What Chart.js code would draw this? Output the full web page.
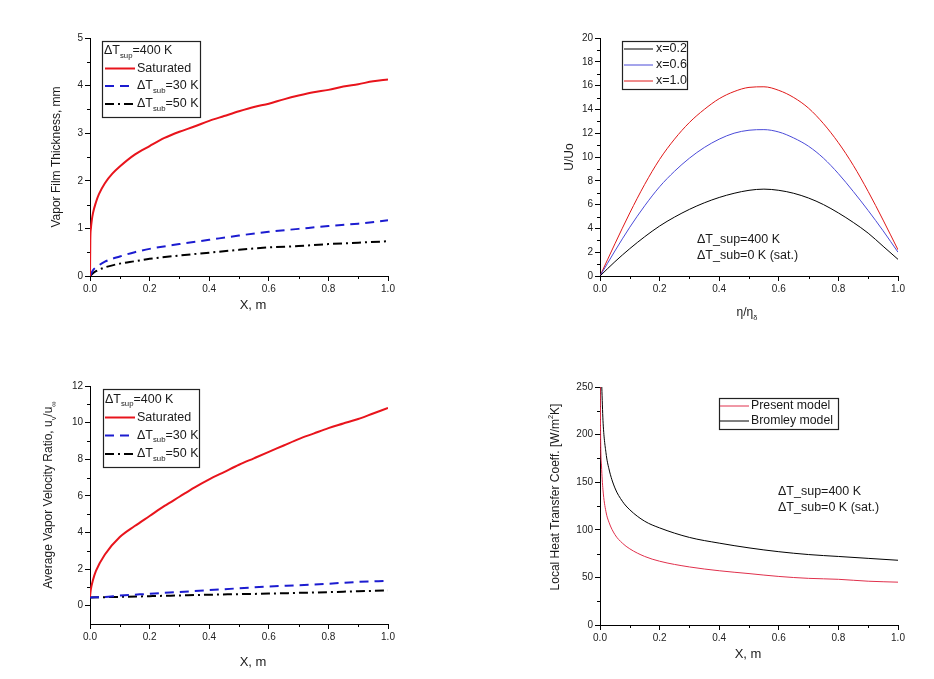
<!DOCTYPE html>
<html><head><meta charset="utf-8">
<script src="https://cdn.jsdelivr.net/npm/chart.js@4.4.0/dist/chart.umd.min.js"></script>
<style>
html,body{margin:0;padding:0;background:#fff;width:934px;height:679px;overflow:hidden;position:relative;}
canvas{position:absolute;}
</style></head><body>
<canvas id="c1" width="467" height="340" style="left:0;top:0"></canvas>
<canvas id="c2" width="467" height="340" style="left:467px;top:0"></canvas>
<canvas id="c3" width="467" height="339" style="left:0;top:340px"></canvas>
<canvas id="c4" width="467" height="339" style="left:467px;top:340px"></canvas>
<script>
const FONT = "'Liberation Sans', Arial, Helvetica, sans-serif";

// ---------- Panel 1: Vapor film thickness ----------
const filmTicksX = [0, 0.2, 0.4, 0.6, 0.8, 1.0];
const filmTicksY = [0, 1, 2, 3, 4, 5];
const filmSatX = [0, 0.001, 0.003, 0.006, 0.01, 0.02, 0.03, 0.05, 0.075, 0.1, 0.15, 0.2, 0.25, 0.3, 0.35, 0.4, 0.45, 0.5, 0.55, 0.6, 0.65, 0.7, 0.75, 0.8, 0.85, 0.9, 0.95, 1.0];
const filmSat  = [0, 0.75, 1.0, 1.17, 1.32, 1.55, 1.72, 1.95, 2.15, 2.3, 2.55, 2.73, 2.9, 3.03, 3.14, 3.26, 3.36, 3.46, 3.55, 3.62, 3.71, 3.79, 3.86, 3.91, 3.98, 4.03, 4.09, 4.13];
const filmSub30X = [0, 0.01, 0.02, 0.05, 0.1, 0.15, 0.2, 0.3, 0.4, 0.5, 0.6, 0.7, 0.8, 0.9, 1.0];
const filmSub30  = [0, 0.12, 0.18, 0.3, 0.41, 0.5, 0.57, 0.67, 0.76, 0.85, 0.93, 0.99, 1.05, 1.1, 1.17];
const filmSub50X = [0, 0.01, 0.02, 0.05, 0.1, 0.15, 0.2, 0.3, 0.4, 0.5, 0.6, 0.7, 0.8, 0.9, 1.0];
const filmSub50  = [0, 0.06, 0.1, 0.18, 0.26, 0.31, 0.36, 0.43, 0.49, 0.55, 0.6, 0.63, 0.67, 0.7, 0.73];

// ---------- Panel 2: Velocity profile U/Uo ----------
const profTicksX = [0, 0.2, 0.4, 0.6, 0.8, 1.0];
const profTicksY = [0, 2, 4, 6, 8, 10, 12, 14, 16, 18, 20];
const profEta = [0, 0.05, 0.1, 0.15, 0.2, 0.25, 0.3, 0.35, 0.4, 0.45, 0.5, 0.55, 0.6, 0.65, 0.7, 0.75, 0.8, 0.85, 0.9, 0.95, 1.0];
const profX02 = [0, 1.2, 2.3, 3.3, 4.2, 4.95, 5.6, 6.15, 6.6, 6.95, 7.2, 7.3, 7.2, 6.95, 6.55, 6.0, 5.3, 4.5, 3.6, 2.5, 1.4];
const profX06 = [0, 2.1, 4.1, 5.9, 7.5, 8.8, 9.9, 10.8, 11.5, 12.0, 12.25, 12.3, 12.1, 11.6, 10.9, 9.9, 8.6, 7.1, 5.5, 3.8, 2.0];
const profX10 = [0, 2.7, 5.3, 7.7, 9.8, 11.5, 12.9, 14.0, 14.9, 15.5, 15.85, 15.9, 15.6, 15.0, 14.1, 12.8, 11.2, 9.3, 7.1, 4.7, 2.2];

// ---------- Panel 3: Average vapor velocity ratio ----------
const velTicksX = [0, 0.2, 0.4, 0.6, 0.8, 1.0];
const velTicksY = [0, 2, 4, 6, 8, 10, 12];
const velSatX = [0, 0.003, 0.01, 0.02, 0.05, 0.1, 0.15, 0.2, 0.25, 0.3, 0.35, 0.4, 0.45, 0.5, 0.55, 0.6, 0.65, 0.7, 0.75, 0.8, 0.85, 0.9, 0.95, 1.0];
const velSat  = [0.5, 0.9, 1.4, 1.9, 2.8, 3.75, 4.35, 4.9, 5.45, 5.95, 6.45, 6.9, 7.3, 7.7, 8.05, 8.4, 8.75, 9.1, 9.4, 9.7, 9.95, 10.2, 10.5, 10.8];
const velSub30X = [0, 0.05, 0.1, 0.2, 0.3, 0.4, 0.5, 0.6, 0.7, 0.8, 0.9, 1.0];
const velSub30  = [0.45, 0.47, 0.55, 0.65, 0.75, 0.85, 0.95, 1.05, 1.12, 1.2, 1.3, 1.36];
const velSub50X = [0, 0.1, 0.2, 0.3, 0.4, 0.5, 0.6, 0.7, 0.8, 0.9, 1.0];
const velSub50  = [0.45, 0.48, 0.52, 0.56, 0.6, 0.63, 0.66, 0.7, 0.74, 0.79, 0.83];

// ---------- Panel 4: Local heat transfer coefficient ----------
const htcTicksX = [0, 0.2, 0.4, 0.6, 0.8, 1.0];
const htcTicksY = [0, 50, 100, 150, 200, 250];
const htcPresentX = [0.001, 0.002, 0.005, 0.01, 0.02, 0.03, 0.05, 0.075, 0.1, 0.15, 0.2, 0.3, 0.4, 0.5, 0.6, 0.7, 0.8, 0.9, 1.0];
const htcPresent  = [250, 200, 168, 142, 119, 108, 95, 86, 80, 72, 67, 61, 57, 54, 51, 49, 48, 46, 45];
const htcBromleyX = [0.006, 0.01, 0.02, 0.03, 0.05, 0.075, 0.1, 0.15, 0.2, 0.3, 0.4, 0.5, 0.6, 0.7, 0.8, 0.9, 1.0];
const htcBromley  = [250, 215, 181, 164, 144, 130, 121, 109, 102, 92, 86, 81, 77, 74, 72, 70, 68];

function pts(xs, ys) { return xs.map((x, i) => ({ x: x, y: ys[i] })); }

function richWidth(ctx, segs, size) {
  let w = 0;
  for (const s of segs) {
    ctx.font = (s.s ? size * 0.62 : size) + 'px ' + FONT;
    w += ctx.measureText(s.t).width;
  }
  return w;
}
function drawRich(ctx, segs, x, y, size, align) {
  const w = richWidth(ctx, segs, size);
  let cx = align === 'center' ? x - w / 2 : x;
  ctx.textBaseline = 'middle';
  ctx.textAlign = 'left';
  for (const s of segs) {
    ctx.font = (s.s ? size * 0.62 : size) + 'px ' + FONT;
    const dy = s.s === 'sub' ? size * 0.38 : (s.s === 'sup' ? -size * 0.38 : 0);
    ctx.fillText(s.t, cx, y + dy);
    cx += ctx.measureText(s.t).width;
  }
}

const decor = {
  id: 'decor',
  afterDraw(chart, args, o) {
    const ctx = chart.ctx;
    ctx.save();
    ctx.fillStyle = '#1a1a1a';
    // minor ticks
    if (o.minor) {
      ctx.strokeStyle = '#000'; ctx.lineWidth = 1;
      const xs = chart.scales.x, ys = chart.scales.y;
      ctx.beginPath();
      for (const v of o.minor.x) {
        const p = Math.round(xs.getPixelForValue(v)) + 0.5;
        ctx.moveTo(p, chart.chartArea.bottom); ctx.lineTo(p, chart.chartArea.bottom + 3);
      }
      for (const v of o.minor.y) {
        const p = Math.round(ys.getPixelForValue(v)) + 0.5;
        ctx.moveTo(chart.chartArea.left, p); ctx.lineTo(chart.chartArea.left - 3, p);
      }
      ctx.stroke();
    }
    // axis titles
    if (o.xTitle) drawRich(ctx, o.xTitle.segs, o.xTitle.x, o.xTitle.y, o.xTitle.size, 'center');
    if (o.yTitle) {
      ctx.save();
      ctx.translate(o.yTitle.x, o.yTitle.y);
      ctx.rotate(-Math.PI / 2);
      drawRich(ctx, o.yTitle.segs, 0, 0, o.yTitle.size, 'center');
      ctx.restore();
    }
    // notes
    if (o.notes) for (const n of o.notes) drawRich(ctx, n.segs, n.x, n.y, n.size, 'left');
    // legend
    if (o.legend) {
      const L = o.legend;
      ctx.fillStyle = '#fff';
      ctx.fillRect(L.x0, L.y0, L.x1 - L.x0, L.y1 - L.y0);
      ctx.strokeStyle = '#222'; ctx.lineWidth = 1.2; ctx.setLineDash([]);
      ctx.strokeRect(L.x0 + 0.5, L.y0 + 0.5, L.x1 - L.x0, L.y1 - L.y0);
      ctx.fillStyle = '#1a1a1a';
      for (const r of L.rows) {
        if (r.ds !== undefined) {
          const ds = chart.data.datasets[r.ds];
          ctx.save();
          ctx.strokeStyle = ds.borderColor; ctx.lineWidth = ds.borderWidth;
          ctx.setLineDash(ds.borderDash || []);
          ctx.beginPath(); ctx.moveTo(L.lx0, r.y); ctx.lineTo(L.lx1, r.y); ctx.stroke();
          ctx.restore();
        }
        drawRich(ctx, r.segs, r.tx !== undefined ? r.tx : L.tx, r.y, L.size, 'left');
      }
    }
    ctx.restore();
  }
};

function axis(min, max, ticks, fmt, fitSize, isX) {
  return {
    type: 'linear', min: min, max: max,
    afterBuildTicks: s => { s.ticks = ticks.map(v => ({ value: v })); },
    afterFit: s => { if (isX) s.height = fitSize; else s.width = fitSize; },
    border: { display: true, color: '#000', width: 1 },
    grid: { display: true, drawOnChartArea: false, drawTicks: true, tickLength: 5, tickColor: '#000', tickWidth: 1 },
    ticks: { color: '#222', font: { family: FONT, size: 10 }, padding: 2, maxRotation: 0, autoSkip: false,
      callback: v => fmt(v) }
  };
}
const f1 = v => Number(v).toFixed(1);
const f0 = v => String(v);

function line(data, color, width, dash) {
  return { data: data, borderColor: color, backgroundColor: color, borderWidth: width, borderDash: dash || [],
    pointRadius: 0, showLine: true, fill: false, cubicInterpolationMode: 'monotone' };
}

function make(id, datasets, scales, padding, decorOpts) {
  return new Chart(document.getElementById(id), {
    type: 'scatter',
    data: { datasets: datasets },
    options: {
      responsive: false, animation: false, events: [],
      layout: { padding: padding },
      plugins: { legend: { display: false }, tooltip: { enabled: false }, decor: decorOpts },
      scales: scales
    },
    plugins: [decor]
  });
}

const DT = [{ t: '\u0394T' }];

// Panel 1
make('c1', [
  line(pts(filmSatX, filmSat), '#e8141c', 2),
  line(pts(filmSub30X, filmSub30), '#1c1cd0', 2, [9, 6]),
  line(pts(filmSub50X, filmSub50), '#000', 2, [9, 4, 2, 4])
], {
  x: axis(0, 1, filmTicksX, f1, 30, true),
  y: axis(0, 5, filmTicksY, f0, 40, false)
}, { left: 50, right: 79, top: 38, bottom: 34 }, {
  minor: { x: [0.1, 0.3, 0.5, 0.7, 0.9], y: [0.5, 1.5, 2.5, 3.5, 4.5] },
  xTitle: { segs: [{ t: 'X, m' }], x: 253, y: 305, size: 13 },
  yTitle: { segs: [{ t: 'Vapor Film Thickness, mm' }], x: 57, y: 157, size: 12 },
  legend: { x0: 102, y0: 41, x1: 200, y1: 117, lx0: 105, lx1: 135, tx: 137, size: 12.5, rows: [
    { segs: DT.concat([{ t: 'sup', s: 'sub' }, { t: '=400 K' }]), y: 51, tx: 104 },
    { ds: 0, segs: [{ t: 'Saturated' }], y: 68.5 },
    { ds: 1, segs: DT.concat([{ t: 'sub', s: 'sub' }, { t: '=30 K' }]), y: 86 },
    { ds: 2, segs: DT.concat([{ t: 'sub', s: 'sub' }, { t: '=50 K' }]), y: 104 }
  ] }
});

// Panel 2
make('c2', [
  line(pts(profEta, profX02), '#000', 1),
  line(pts(profEta, profX06), '#4a4ad8', 1),
  line(pts(profEta, profX10), '#e01818', 1)
], {
  x: axis(0, 1, profTicksX, f1, 30, true),
  y: axis(0, 20, profTicksY, f0, 40, false)
}, { left: 93, right: 36, top: 38, bottom: 34 }, {
  minor: { x: [0.1, 0.3, 0.5, 0.7, 0.9], y: [1, 3, 5, 7, 9, 11, 13, 15, 17, 19] },
  xTitle: { segs: [{ t: '\u03b7/\u03b7' }, { t: '\u03b4', s: 'sub' }], x: 280, y: 313, size: 12 },
  yTitle: { segs: [{ t: 'U/Uo' }], x: 103, y: 157, size: 12 },
  notes: [
    { segs: [{ t: '\u0394T_sup=400 K' }], x: 230, y: 240, size: 12.5 },
    { segs: [{ t: '\u0394T_sub=0 K (sat.)' }], x: 230, y: 256, size: 12.5 }
  ],
  legend: { x0: 155, y0: 41, x1: 220, y1: 89, lx0: 157, lx1: 186, tx: 189, size: 12.5, rows: [
    { ds: 0, segs: [{ t: 'x=0.2' }], y: 49 },
    { ds: 1, segs: [{ t: 'x=0.6' }], y: 65 },
    { ds: 2, segs: [{ t: 'x=1.0' }], y: 81 }
  ] }
});

// Panel 3
make('c3', [
  line(pts(velSatX, velSat), '#e8141c', 2),
  line(pts(velSub30X, velSub30), '#1c1cd0', 2, [9, 6]),
  line(pts(velSub50X, velSub50), '#000', 2, [9, 4, 2, 4])
], {
  x: axis(0, 1, velTicksX, f1, 30, true),
  y: axis(-1, 12, velTicksY, f0, 40, false)
}, { left: 50, right: 79, top: 46, bottom: 25 }, {
  minor: { x: [0.1, 0.3, 0.5, 0.7, 0.9], y: [1, 3, 5, 7, 9, 11] },
  xTitle: { segs: [{ t: 'X, m' }], x: 253, y: 322, size: 13 },
  yTitle: { segs: [{ t: 'Average Vapor Velocity Ratio, u' }, { t: 'v', s: 'sub' }, { t: '/u' }, { t: '\u221e', s: 'sub' }], x: 49, y: 155, size: 12 },
  legend: { x0: 103, y0: 49, x1: 199, y1: 127, lx0: 105, lx1: 135, tx: 137, size: 12.5, rows: [
    { segs: DT.concat([{ t: 'sup', s: 'sub' }, { t: '=400 K' }]), y: 59.5, tx: 105 },
    { ds: 0, segs: [{ t: 'Saturated' }], y: 77.5 },
    { ds: 1, segs: DT.concat([{ t: 'sub', s: 'sub' }, { t: '=30 K' }]), y: 95.5 },
    { ds: 2, segs: DT.concat([{ t: 'sub', s: 'sub' }, { t: '=50 K' }]), y: 114 }
  ] }
});

// Panel 4
make('c4', [
  line(pts(htcPresentX, htcPresent), '#e0304c', 1),
  line(pts(htcBromleyX, htcBromley), '#000', 1)
], {
  x: axis(0, 1, htcTicksX, f1, 30, true),
  y: axis(0, 250, htcTicksY, f0, 40, false)
}, { left: 93, right: 36, top: 47, bottom: 24 }, {
  minor: { x: [0.1, 0.3, 0.5, 0.7, 0.9], y: [25, 75, 125, 175, 225] },
  xTitle: { segs: [{ t: 'X, m' }], x: 281, y: 314, size: 13 },
  yTitle: { segs: [{ t: 'Local Heat Transfer Coeff. [W/m' }, { t: '2', s: 'sup' }, { t: 'K]' }], x: 89, y: 157, size: 12 },
  notes: [
    { segs: [{ t: '\u0394T_sup=400 K' }], x: 311, y: 152, size: 12.5 },
    { segs: [{ t: '\u0394T_sub=0 K (sat.)' }], x: 311, y: 168, size: 12.5 }
  ],
  legend: { x0: 252, y0: 58, x1: 371, y1: 89, lx0: 253, lx1: 282, tx: 284, size: 12.3, rows: [
    { ds: 0, segs: [{ t: 'Present model' }], y: 66 },
    { ds: 1, segs: [{ t: 'Bromley model' }], y: 81 }
  ] }
});
</script>
</body></html>
